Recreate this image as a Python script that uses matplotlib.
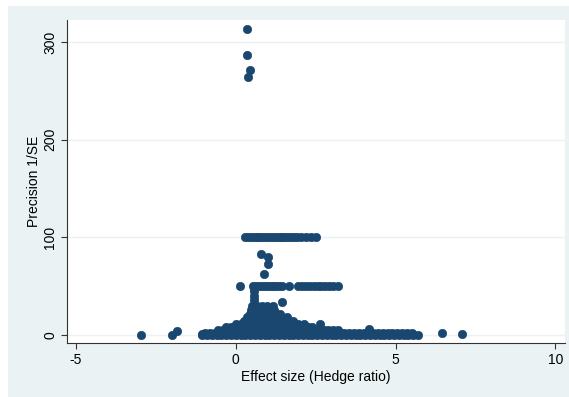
import matplotlib.pyplot as plt
from matplotlib.patches import Rectangle

# Funnel plot: effect size vs precision (1/SE)
# Estimates with very high precision
top_x = [0.36, 0.36, 0.43, 0.37]
top_y = [313, 287, 271, 264]

# Estimates sharing precision 100
row100_x = [0.29, 0.38, 0.47, 0.56, 0.65, 0.74, 0.83, 0.92, 1.01, 1.10, 1.19,
            1.28, 1.37, 1.46, 1.55, 1.64, 1.73, 1.82, 1.90, 2.05, 2.20, 2.35, 2.50]
row100_y = [100] * len(row100_x)

# Estimates sharing precision 50
row50_x = [0.12, 0.55, 0.64, 0.73, 0.82, 0.91, 1.00, 1.09, 1.18, 1.27, 1.36,
           1.45, 1.65, 1.96, 2.08, 2.20, 2.32, 2.44, 2.56, 2.68, 2.80, 2.92,
           3.04, 3.20]
row50_y = [50] * len(row50_x)

# Scattered mid-precision estimates
mid_x = [0.78, 1.02, 1.02, 0.87, 1.44, 0.58, 0.58, 0.58]
mid_y = [83, 80, 73, 62, 34, 45, 40, 36]

# Outlying low-precision estimates
out_x = [-2.95, -1.98, -1.85, -1.07, 6.45, 7.08, 4.18, 2.62]
out_y = [0, 0, 4, 1, 2, 1, 6.5, 11]

# Dense body of the funnel, one list of effect sizes per precision level
body = {
    0: [-1.05, -0.9, -0.75, -0.6, -0.45, -0.3, -0.15, 0.0, 0.15, 0.3, 0.45,
        0.6, 0.75, 0.9, 1.05, 1.2, 1.35, 1.5, 1.65, 1.8, 1.95, 2.1, 2.25,
        2.4, 2.55, 2.7, 2.85, 3.0, 3.15, 3.3, 3.45, 3.6, 3.75, 3.9, 4.05,
        4.2, 4.35, 4.5, 4.65, 4.8, 4.95, 5.1, 5.25, 5.4, 5.55, 5.7],
    2.5: [-0.95, -0.8, -0.65, -0.5, -0.35, -0.2, -0.05, 0.1, 0.25, 0.4,
          0.55, 0.7, 0.85, 1.0, 1.15, 1.3, 1.45, 1.6, 1.75, 1.9, 2.05, 2.2,
          2.35, 2.5, 2.65, 2.8, 2.95, 3.1, 3.25, 3.4, 3.55, 3.7, 3.85, 4.0,
          4.15, 4.3, 4.45, 4.6, 4.75, 4.9, 5.05, 5.2, 5.35, 5.5],
    5: [-0.55, -0.4, -0.25, -0.1, 0.05, 0.2, 0.35, 0.5, 0.65, 0.8, 0.95,
        1.1, 1.25, 1.4, 1.55, 1.7, 1.85, 2.0, 2.15, 2.3, 2.45, 2.6, 2.75,
        2.9, 3.05, 3.2],
    8: [-0.3, -0.15, 0.0, 0.15, 0.3, 0.45, 0.6, 0.75, 0.9, 1.05, 1.2, 1.35,
        1.5, 1.65, 1.8, 1.95, 2.1, 2.25, 2.4],
    11: [0.0, 0.15, 0.3, 0.45, 0.6, 0.75, 0.9, 1.05, 1.2, 1.35, 1.5, 1.65,
         1.8, 1.95, 2.15],
    14: [0.25, 0.4, 0.55, 0.7, 0.85, 1.0, 1.15, 1.3, 1.45, 1.6, 1.8],
    18: [0.35, 0.5, 0.65, 0.8, 0.95, 1.1, 1.25, 1.4, 1.6],
    22: [0.45, 0.6, 0.75, 0.9, 1.05, 1.2, 1.37],
    26: [0.48, 0.63, 0.78, 0.93, 1.08, 1.2],
    30: [0.52, 0.67, 0.82, 0.97, 1.15],
}

navy = '#1a476f'
bg = '#eaf2f3'

plt.rcParams['font.family'] = ['Liberation Sans', 'DejaVu Sans']
plt.rcParams['axes.unicode_minus'] = False

fig = plt.figure(figsize=(5.69, 3.97), dpi=100)
fig.patch.set_facecolor('white')
# Stata-style outer background panel, kept behind the axes
fig.patches.append(Rectangle((8 / 569, 0), 561 / 569, 391 / 397,
                             transform=fig.transFigure, facecolor=bg,
                             edgecolor='none', zorder=-10))

ax = fig.add_axes([67 / 569, 1 - 343 / 397, 498 / 569, 323 / 397])
ax.set_facecolor('white')

mk = dict(s=36, color=navy, edgecolors=navy, linewidths=0.5, zorder=3)
for yv, xs in body.items():
    ax.scatter(xs, [yv] * len(xs), **mk)
ax.scatter(row100_x, row100_y, **mk)
ax.scatter(row50_x, row50_y, **mk)
ax.scatter(mid_x, mid_y, **mk)
ax.scatter(top_x, top_y, **mk)
ax.scatter(out_x, out_y, **mk)

ax.set_xlim(-5.28, 10.3)
ax.set_ylim(-8.2, 322.7)
ax.set_xticks([-5, 0, 5, 10])
ax.set_yticks([0, 100, 200, 300])
ax.yaxis.grid(True, color=bg, linewidth=1.0, zorder=1)
ax.set_axisbelow(True)

for side in ['top', 'right']:
    ax.spines[side].set_visible(False)
for side in ['left', 'bottom']:
    ax.spines[side].set_color('#333333')
    ax.spines[side].set_linewidth(0.8)

ax.tick_params(axis='both', length=4, width=0.8, color='#333333',
               labelsize=10, pad=3)
for lbl in ax.get_yticklabels():
    lbl.set_rotation(90)
    lbl.set_va('center')

ax.set_xlabel('Effect size (Hedge ratio)', fontsize=10, labelpad=2)
ax.set_ylabel('Precision 1/SE', fontsize=10, labelpad=2)

fig.savefig('out.png', dpi=100, facecolor=fig.get_facecolor())
